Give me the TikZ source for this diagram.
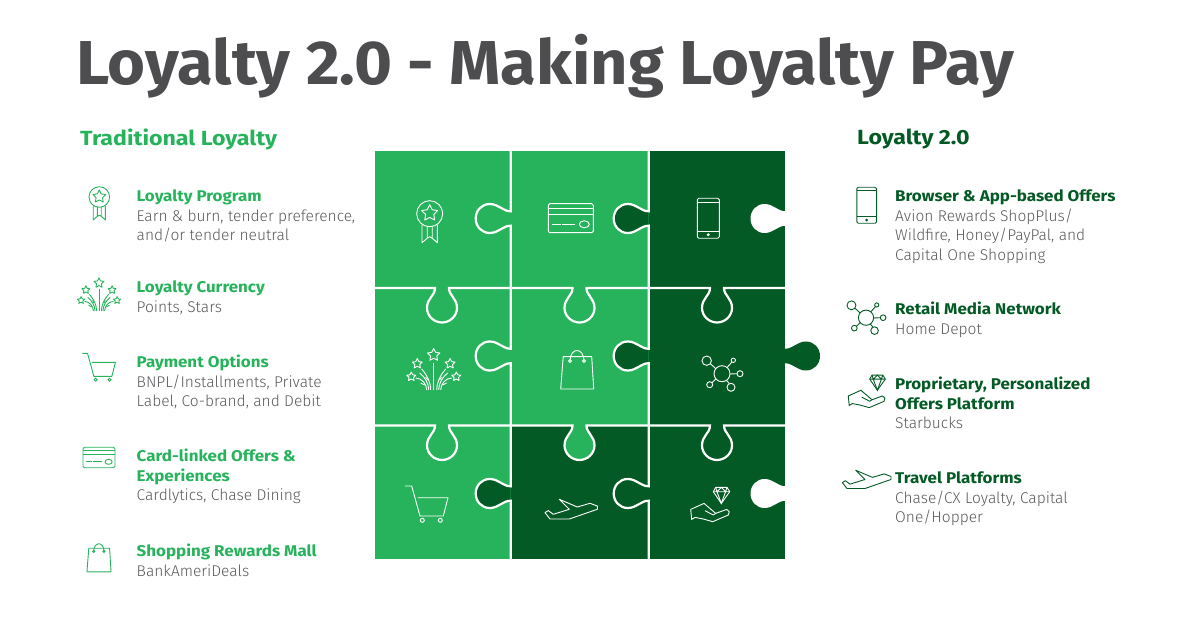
\documentclass[tikz,border=0pt]{standalone}
\usepackage{fontspec}
\setmainfont{Fira Sans}[BoldFeatures={FakeStretch=1.09}]
\newfontfamily\lightf{Fira Sans Light}
\newfontfamily\titlef{Fira Sans Bold}[FakeStretch=1.05]
\newfontfamily\headf{Fira Sans Bold}[FakeStretch=1.13]
\definecolor{lg}{HTML}{27B35C}
\definecolor{dg}{HTML}{045A24}
\definecolor{titlec}{HTML}{4D4D4F}
\definecolor{bodyc}{HTML}{58595B}
% puzzle tabs
\newcommand\htab[2]{(#1,#2-7.2) .. controls (#1-8,#2-7.2) and (#1-12,#2-14.5) .. (#1-21,#2-14.5) .. controls (#1-29,#2-14.5) and (#1-35,#2-8) .. (#1-35,#2) .. controls (#1-35,#2+8) and (#1-29,#2+14.5) .. (#1-21,#2+14.5) .. controls (#1-12,#2+14.5) and (#1-8,#2+7.2) .. (#1,#2+7.2)}
\newcommand\rtab[2]{(#1,#2-7.2) .. controls (#1+8,#2-7.2) and (#1+12,#2-14.5) .. (#1+21,#2-14.5) .. controls (#1+29,#2-14.5) and (#1+35,#2-8) .. (#1+35,#2) .. controls (#1+35,#2+8) and (#1+29,#2+14.5) .. (#1+21,#2+14.5) .. controls (#1+12,#2+14.5) and (#1+8,#2+7.2) .. (#1,#2+7.2)}
\newcommand\vtab[2]{(#1-7,#2) .. controls (#1-7,#2+8) and (#1-15,#2+10) .. (#1-15,#2+20) .. controls (#1-15,#2+28) and (#1-8,#2+34.5) .. (#1,#2+34.5) .. controls (#1+8,#2+34.5) and (#1+15,#2+28) .. (#1+15,#2+20) .. controls (#1+15,#2+10) and (#1+7,#2+8) .. (#1+7,#2)}
\newcommand\iconstar[3]{\begin{scope}[shift={(#1,#2)}]\draw[line join=round] (-90:#3) -- (-54:{.5*#3}) -- (-18:#3) -- (18:{.5*#3}) -- (54:#3) -- (90:{.5*#3}) -- (126:#3) -- (162:{.5*#3}) -- (198:#3) -- (234:{.5*#3}) -- cycle;\end{scope}}
\newcommand\tl[1]{\rule{0pt}{13.65pt}\bfseries #1}
\tikzset{
  x=1pt,y=-1pt,
  itemtext/.style={anchor=north west,inner sep=0pt,align=left,font=\fontsize{15.55}{19.5}\selectfont,text=bodyc},
  headtext/.style={anchor=west,inner sep=0pt,font=\fontsize{20.5}{24}\headf},
  seam/.style={draw=white,line width=2.2pt},
  iconw/.style={color=white,line width=.9pt},
  iconl/.style={color=lg,line width=.9pt},
  icond/.style={color=dg,line width=.9pt},
  medal/.pic={
    \draw (0,0) circle (13);
    \iconstar{0}{-.5}{8.5}
    \draw[line join=round] (-7.7,11) -- (-7.7,29) -- (-2.5,24.5) -- (-2.5,12.5) (-2.5,24.5) -- (0,23) -- (2.5,24.5) -- (2.5,12.5) (2.5,24.5) -- (7.7,29) -- (7.7,11);
  },
  card/.pic={
    \draw[rounded corners=1.5] (-22.5,-14.5) rectangle (22.5,14.5);
    \draw (-22.5,-9.9) -- (22.5,-9.9) (-22.5,-3.9) -- (22.5,-3.9);
    \draw (-18.5,6.1) -- (-10,6.1) (-8.5,6.1) -- (4.5,6.1);
    \draw (13.5,6.1) ellipse (5 and 3.5);
  },
  phone/.pic={
    \draw[rounded corners=1.5] (-11,-20) rectangle (11,20);
    \draw (-11,-16) -- (11,-16) (-11,12.8) -- (11,12.8);
    \draw (0,16.4) circle (1);
  },
  fireworks/.pic={
    \iconstar{0}{-35}{6.5}
    \iconstar{-16.4}{-26.3}{5.2}
    \iconstar{16.4}{-26.3}{5.2}
    \iconstar{-22.4}{-13.3}{4.7}
    \iconstar{22.6}{-13.3}{4.7}
    \draw (0,0) -- (0,-27);
    \draw (-3,0) .. controls (-3,-7) and (-6,-14) .. (-12,-21);
    \draw (-5,0) .. controls (-5,-7) and (-9,-13) .. (-14,-17);
    \draw (3,0) .. controls (3,-7) and (6,-14) .. (12,-21);
    \draw (5,0) .. controls (5,-7) and (9,-13) .. (14,-17);
    \draw (-7,0) .. controls (-7,-6) and (-12,-12) .. (-18,-12);
    \draw (7,0) .. controls (7,-6) and (12,-12) .. (18,-12);
    \draw (-8,-13) -- (-6,-10) (8,-13) -- (6,-10) (-13,-7) -- (-9,-5) (13,-7) -- (9,-5);
  },
  bag/.pic={
    \draw[line join=round] (-14,-13.3) -- (14.5,-13.3) -- (16.5,19) -- (-16.5,19) -- cycle;
    \draw (-7.2,-9) .. controls (-7.2,-23) and (6.8,-23) .. (6.8,-9);
    \draw[fill=none] (-7.2,-9) circle (1.5) (6.8,-9) circle (1.5);
  },
  network/.pic={
    \draw (0,0) circle (8);
    \draw (-15.3,-13) circle (4.7) (11.3,-13.4) circle (2.2) (18,0) circle (3) (9,13.6) circle (4) (-12.3,11) circle (3);
    \draw (-11.6,-10) -- (-6.2,-5) (9.8,-11.5) -- (5,-6.2) (15,0) -- (8,.3) (7.2,9.8) -- (4.5,6.6) (-10,9) -- (-6,5);
  },
  cart/.pic={
    \draw[line join=round] (-21.5,-17) -- (-14.8,-17) -- (-6.5,13) -- (16.8,13) -- (21.5,-5.3) -- (-8.8,-5.3);
    \draw (-4.2,17.3) circle (2) (13.8,17.3) circle (2);
  },
  plane/.pic={
    \draw[line join=round] (26.3,-3.3) -- (19,-6) -- (6.3,-2.3) -- (-11.7,-10) -- (-1.7,0) -- (-17.7,5) -- (-22.7,1.3) -- (-26,3.3) -- (-21,9.7) -- (-1.7,9.7) -- (26.3,0) -- cycle;
  },
  gemhand/.pic={
    \draw[line join=round] (-19.3,2.7) -- (-6,-3.3) -- (5.7,6.7) -- (16.7,2.7) -- (19.3,5) -- (18.3,8.3) -- (2.7,15) -- (-6.7,12.3) -- (-15,10.7) -- (-18.3,12.7) -- cycle;
    \draw[line join=round] (-5,4) -- (3.3,8.3) -- (5.7,6.7);
    \draw[line join=round] (5.7,-19.3) -- (17,-19.3) -- (19.7,-15) -- (11.3,-3.3) -- (3.3,-15) -- cycle;
    \draw (3.3,-15) -- (19.7,-15) (7,-15) -- (11.3,-3.3) -- (15.6,-15) (5.7,-19.3) -- (7,-15) -- (11.3,-19.3) -- (15.6,-15) -- (17,-19.3);
  },
}
\begin{document}
\begin{tikzpicture}
\useasboundingbox (0,0) rectangle (1200,628);
% title
\node[anchor=base west,inner sep=0pt,text=titlec,font=\fontsize{62}{70}\titlef] (title) at (76,85) {Loyalty 2.0 - Making Loyalty Pay};
\node[headtext,text=lg] (hl) at (80,139) {Traditional Loyalty};
\node[headtext,text=dg] (hr) at (857,139) {Loyalty 2.0};
% puzzle: cells
\fill[lg] (375,151) rectangle (785,559);
\fill[dg] (648.7,151) rectangle (785,425.5);
\fill[dg] (510.7,425.5) rectangle (785,559);
% tabs
\fill[lg] \htab{510.7}{218.5} -- cycle;
\fill[dg] \htab{648.7}{218.5} -- cycle;
\fill[lg] \htab{510.7}{356} -- cycle;
\fill[dg] \htab{648.7}{356} -- cycle;
\fill[dg] \htab{510.7}{493.5} -- cycle;
\fill[dg] \htab{648.7}{493.5} -- cycle;
\fill[lg] \vtab{579.5}{425.5} -- cycle;
\fill[white] \htab{785.5}{218.5} -- cycle;
\fill[white] \htab{785.5}{493.5} -- cycle;
\fill[dg] \rtab{785}{356} -- cycle;
% seams
\draw[seam] (510.7,151) -- \htab{510.7}{218.5} -- \htab{510.7}{356} -- \htab{510.7}{493.5} -- (510.7,559);
\draw[seam] (648.7,151) -- \htab{648.7}{218.5} -- \htab{648.7}{356} -- \htab{648.7}{493.5} -- (648.7,559);
\draw[seam] (375,288) -- \vtab{442}{288} -- \vtab{579.5}{288} -- \vtab{717}{288} -- (785,288);
\draw[seam] (375,425.5) -- \vtab{442}{425.5} -- \vtab{579.5}{425.5} -- \vtab{717}{425.5} -- (785,425.5);
% puzzle icons
\pic[iconw] (p1) at (429.7,213.7) {medal};
\pic[iconw] (p2) at (570.8,218.2) {card};
\pic[iconw] (p3) at (708.3,218.3) {phone};
\pic[iconw] (p4) at (433.7,390) {fireworks};
\pic[iconw] (p5) at (577.2,370) {bag};
\pic[iconw] (p6) at (722,373.7) {network};
\pic[iconw] (p7) at (426.5,503) {cart};
\pic[iconw] (p8) at (571,509.3) {plane};
\pic[iconw] (p9) at (710,506.7) {gemhand};
% left icons
\pic[iconl,scale=.79] (l1) at (99.3,197) {medal};
\pic[iconl,scale=.8] (l2) at (99,311) {fireworks};
\pic[iconl,scale=.77] (l3) at (98.9,366.4) {cart};
\pic[iconl,scale=.71] (l4) at (99,457.5) {card};
\pic[iconl,scale=.73] (l5) at (99,558) {bag};
% right icons
\pic[icond,scale=.9] (r1) at (866.7,205.3) {phone};
\pic[icond,scale=.95] (r2) at (866,317.7) {network};
\pic[icond,scale=.95] (r3) at (866.6,393.4) {gemhand};
\pic[icond,scale=.93] (r4) at (866.5,479.5) {plane};
% left text
\node[itemtext] (t1) at (136.5,188) {{\color{lg}\tl{Loyalty Program}}\\{\lightf Earn \& burn, tender preference,}\\{\lightf and/or tender neutral}};
\node[itemtext] (t2) at (136.5,279) {{\color{lg}\tl{Loyalty Currency}}\\{\lightf Points, Stars}};
\node[itemtext] (t3) at (136.5,354) {{\color{lg}\tl{Payment Options}}\\{\lightf BNPL/Installments, Private}\\{\lightf Label, Co-brand, and Debit}};
\node[itemtext] (t4) at (136.5,448) {{\color{lg}\tl{Card-linked Offers \&}}\\{\color{lg}\bfseries Experiences}\\{\lightf Cardlytics, Chase Dining}};
\node[itemtext] (t5) at (136.5,543) {{\color{lg}\tl{Shopping Rewards Mall}}\\{\lightf BankAmeriDeals}};
% right text
\node[itemtext] (u1) at (895,188) {{\color{dg}\tl{Browser \& App-based Offers}}\\{\lightf Avion Rewards ShopPlus/}\\{\lightf Wildfire, Honey/PayPal, and}\\{\lightf Capital One Shopping}};
\node[itemtext] (u2) at (895,301) {{\color{dg}\tl{Retail Media Network}}\\{\lightf Home Depot}};
\node[itemtext] (u3) at (895,376) {{\color{dg}\tl{Proprietary, Personalized}}\\{\color{dg}\bfseries Offers Platform}\\{\lightf Starbucks}};
\node[itemtext] (u4) at (895,470) {{\color{dg}\tl{Travel Platforms}}\\{\lightf Chase/CX Loyalty, Capital}\\{\lightf One/Hopper}};
\end{tikzpicture}
\end{document}
